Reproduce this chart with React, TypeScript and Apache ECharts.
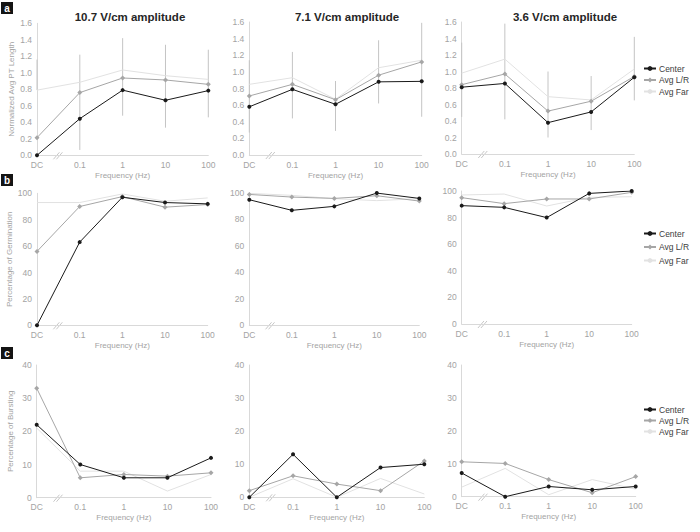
import React, { useEffect, useRef } from 'react';
import * as echarts from 'echarts';

const categories = ['DC', '0.1', '1', '10', '100'];
const amplitudeTitles = ['10.7 V/cm amplitude', '7.1 V/cm amplitude', '3.6 V/cm amplitude'];
const seriesNames = ['Center', 'Avg L/R', 'Avg Far'];
const rowYNames = ['Normalized Avg PT Length', 'Percentage of Germination', 'Percentage of Bursting'];
const panelLetters = ['a', 'b', 'c'];
const xName = 'Frequency (Hz)';

// Row a: normalized average PT length
const lenCenter107 = [0, 0.444, 0.79, 0.667, 0.784];
const lenLR107 = [0.214, 0.76, 0.937, 0.913, 0.86];
const lenFar107 = [0.79, 0.885, 1.034, 0.965, 0.92];
const lenErrLow107 = [0.79, 0.065, 0.48, 0.335, 0.46];
const lenErrHigh107 = [1.16, 1.22, 1.42, 1.34, 1.28];

const lenCenter71 = [0.58, 0.79, 0.61, 0.88, 0.886];
const lenLR71 = [0.71, 0.85, 0.665, 0.96, 1.12];
const lenFar71 = [0.85, 0.93, 0.67, 1.05, 1.14];
const lenErrLow71 = [0.27, 0.44, 0.29, 0.62, 0.46];
const lenErrHigh71 = [1.14, 1.24, 0.89, 1.38, 1.59];

const lenCenter36 = [0.81, 0.855, 0.38, 0.51, 0.93];
const lenLR36 = [0.84, 0.97, 0.52, 0.64, 0.94];
const lenFar36 = [0.98, 1.15, 0.695, 0.655, 1.03];
const lenErrLow36 = [0.45, 0.42, 0.2, 0.29, 0.65];
const lenErrHigh36 = [1.35, 1.58, 1.0, 0.945, 1.42];

// Row b: percentage of germination
const germCenter107 = [0, 63, 97, 93, 92];
const germLR107 = [56, 90, 97.5, 89.5, 91.5];
const germFar107 = [93, 93, 99.5, 94, 96.5];

const germCenter71 = [94.7, 86.7, 89.7, 99.7, 95.7];
const germLR71 = [98.7, 96.7, 95.7, 97.7, 93.7];
const germFar71 = [99.5, 98, 95.5, 94, 95.5];

const germCenter36 = [89, 87.7, 80, 98.2, 100];
const germLR36 = [95, 90.5, 94, 94, 99];
const germFar36 = [97, 97.7, 88.7, 95.2, 95.7];

// Row c: percentage of bursting
const burstCenter107 = [22, 10, 6, 6, 12];
const burstLR107 = [33, 6, 7, 6.5, 7.5];
const burstFar107 = [21, 8, 8, 2, 7];

const burstCenter71 = [0, 13, 0, 9, 10];
const burstLR71 = [2, 6.5, 4, 2, 11];
const burstFar71 = [0, 5.6, 0, 5.7, 1];

const burstCenter36 = [7.2, 0, 3.1, 2.1, 3.1];
const burstLR36 = [10.6, 10.1, 5.2, 1.2, 6.1];
const burstFar36 = [2.9, 8.6, 0.6, 5.2, 2.3];

const panelData = [
  [
    { c: lenCenter107, lr: lenLR107, far: lenFar107, lo: lenErrLow107, hi: lenErrHigh107 },
    { c: lenCenter71, lr: lenLR71, far: lenFar71, lo: lenErrLow71, hi: lenErrHigh71 },
    { c: lenCenter36, lr: lenLR36, far: lenFar36, lo: lenErrLow36, hi: lenErrHigh36 },
  ],
  [
    { c: germCenter107, lr: germLR107, far: germFar107 },
    { c: germCenter71, lr: germLR71, far: germFar71 },
    { c: germCenter36, lr: germLR36, far: germFar36 },
  ],
  [
    { c: burstCenter107, lr: burstLR107, far: burstFar107 },
    { c: burstCenter71, lr: burstLR71, far: burstFar71 },
    { c: burstCenter36, lr: burstLR36, far: burstFar36 },
  ],
];

const rowMax = [1.6, 100, 40];
const rowInterval = [0.2, 20, 10];

// layout: [left, right, top, bottom] in px for each panel
const layout = [
  [[37, 208.3, 23.3, 155.3], [249.3, 421.7, 22, 155], [461.7, 634.3, 22, 154]],
  [[37, 207.7, 193.3, 325.3], [249.3, 419.3, 192.7, 325.3], [461.7, 631.7, 191, 324]],
  [[36.7, 211, 365, 497.7], [249.3, 424.3, 365, 497.3], [461.7, 635.7, 365, 496.7]],
];

const FONT = "'Liberation Sans', Arial, sans-serif";
const TICK = '#a3a3a3';
const AXIS = '#d9d9d9';

export default function App() {
  const ref = useRef<HTMLDivElement>(null);
  useEffect(() => {
    if (!ref.current) return;
    const chart = echarts.init(ref.current, undefined, { renderer: 'svg' });
    const grid: any[] = [];
    const xAxis: any[] = [];
    const yAxis: any[] = [];
    const series: any[] = [];
    const graphic: any[] = [];
    for (let r = 0; r < 3; r++) {
      for (let c = 0; c < 3; c++) {
        const idx = r * 3 + c;
        const [l, rt, t, b] = layout[r][c];
        grid.push({ left: l, top: t, width: rt - l, height: b - t });
        xAxis.push({
          type: 'category',
          gridIndex: idx,
          data: categories,
          boundaryGap: false,
          axisLine: { lineStyle: { color: AXIS, width: 1 } },
          axisTick: { show: false },
          axisLabel: { color: TICK, fontSize: 8.5, fontFamily: FONT, margin: 5 },
          splitLine: { show: false },
          name: xName,
          nameLocation: 'middle',
          nameGap: 16,
          nameTextStyle: { color: TICK, fontSize: 8, fontFamily: FONT },
        });
        yAxis.push({
          type: 'value',
          gridIndex: idx,
          min: 0,
          max: rowMax[r],
          interval: rowInterval[r],
          axisLine: { show: true, lineStyle: { color: AXIS, width: 1 } },
          axisTick: { show: false },
          splitLine: { show: false },
          axisLabel: {
            color: TICK,
            fontSize: 8.5,
            fontFamily: FONT,
            margin: 5,
            formatter: r === 0 ? (v: number) => v.toFixed(1) : (v: number) => String(v),
          },
          name: c === 0 ? rowYNames[r] : '',
          nameLocation: 'middle',
          nameGap: 22,
          nameTextStyle: { color: TICK, fontSize: 8, fontFamily: FONT },
        });
        const d: any = panelData[r][c];
        if (d.lo) {
          series.push({
            type: 'custom',
            name: 'error',
            xAxisIndex: idx,
            yAxisIndex: idx,
            z: 1,
            silent: true,
            data: categories.map((_, i) => [i, d.lo[i], d.hi[i]]),
            encode: { x: 0, y: [1, 2] },
            renderItem: (params: any, api: any) => {
              const x = api.value(0);
              const p1 = api.coord([x, api.value(1)]);
              const p2 = api.coord([x, api.value(2)]);
              return {
                type: 'line',
                shape: { x1: p1[0], y1: p1[1], x2: p2[0], y2: p2[1] },
                style: { stroke: '#c4c4c4', lineWidth: 1 },
              };
            },
          });
        }
        series.push({
          type: 'line', name: 'Avg Far', xAxisIndex: idx, yAxisIndex: idx, z: 2,
          data: d.far, symbol: 'none', color: '#e2e2e2',
          lineStyle: { color: '#e2e2e2', width: 1 },
        });
        series.push({
          type: 'line', name: 'Avg L/R', xAxisIndex: idx, yAxisIndex: idx, z: 3,
          data: d.lr, symbol: 'diamond', symbolSize: 5, color: '#a6a6a6',
          lineStyle: { color: '#a6a6a6', width: 1 }, itemStyle: { color: '#a6a6a6' },
        });
        series.push({
          type: 'line', name: 'Center', xAxisIndex: idx, yAxisIndex: idx, z: 4,
          data: d.c, symbol: 'circle', symbolSize: 4, color: '#1a1a1a',
          lineStyle: { color: '#1a1a1a', width: 1 }, itemStyle: { color: '#1a1a1a' },
        });
        // axis break marks between DC and 0.1
        const mx = l + (rt - l) / 8;
        graphic.push({ type: 'line', shape: { x1: mx - 5, y1: b + 4, x2: mx + 1, y2: b - 3 }, style: { stroke: '#c8c8c8', lineWidth: 1 } });
        graphic.push({ type: 'line', shape: { x1: mx - 2, y1: b + 4, x2: mx + 4, y2: b - 3 }, style: { stroke: '#c8c8c8', lineWidth: 1 } });
      }
    }
    const titleX = [130, 347, 565];
    amplitudeTitles.forEach((t, i) => {
      graphic.push({
        type: 'text', x: titleX[i], y: 16.5,
        style: { text: t, fill: '#262626', font: `bold 11.5px ${FONT}`, textAlign: 'center', textVerticalAlign: 'middle' },
      });
    });
    const letterY = [2, 174, 347];
    panelLetters.forEach((p, i) => {
      graphic.push({ type: 'rect', shape: { x: 1, y: letterY[i], width: 12, height: 12 }, style: { fill: '#141414' } });
      graphic.push({
        type: 'text', x: 7, y: letterY[i] + 6.5,
        style: { text: p, fill: '#ffffff', font: `bold 10px ${FONT}`, textAlign: 'center', textVerticalAlign: 'middle' },
      });
    });
    const legendTops = [64, 229, 405];
    const legendGaps = [2.5, 4.5, 2];
    const legend = legendTops.map((top, i) => ({
      data: seriesNames,
      orient: 'vertical',
      left: 643,
      top,
      padding: 0,
      itemWidth: 12,
      itemHeight: 6,
      itemGap: legendGaps[i],
      textStyle: { fontSize: 8.5, color: '#404040', fontFamily: FONT, padding: [0, 0, 0, -2] },
    }));
    chart.setOption({
      animation: false,
      backgroundColor: '#ffffff',
      textStyle: { fontFamily: FONT },
      grid, xAxis, yAxis, series, legend, graphic,
    });
    return () => chart.dispose();
  }, []);
  return <div ref={ref} style={{ position: 'absolute', left: 0, top: 0, width: 700, height: 532 }} />;
}
